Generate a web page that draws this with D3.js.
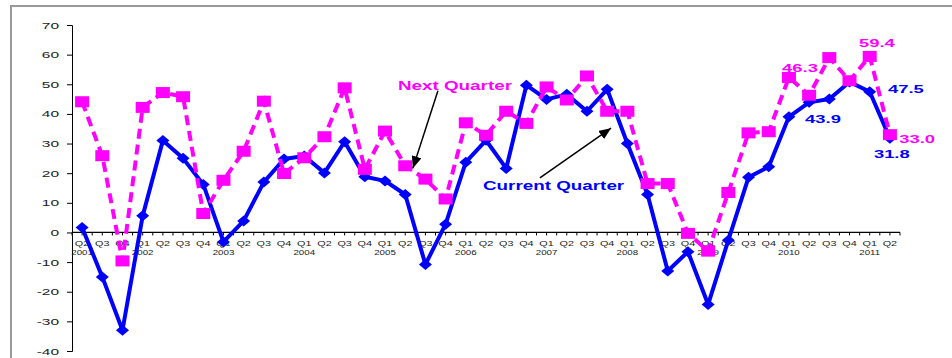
<!DOCTYPE html>
<html>
<head>
<meta charset="utf-8">
<script src="https://cdn.jsdelivr.net/npm/d3@7"></script>
<style>
body { margin: 0; background: #fff; }
svg { display: block; }
text { font-family: "Liberation Sans", Arial, sans-serif; }
</style>
</head>
<body>
<svg width="952" height="358"></svg>
<script>
// quarterly survey, Q2 2001 .. Q2 2011
var categories = [
  "2001 Q2","2001 Q3","2001 Q4",
  "2002 Q1","2002 Q2","2002 Q3","2002 Q4",
  "2003 Q1","2003 Q2","2003 Q3","2003 Q4",
  "2004 Q1","2004 Q2","2004 Q3","2004 Q4",
  "2005 Q1","2005 Q2","2005 Q3","2005 Q4",
  "2006 Q1","2006 Q2","2006 Q3","2006 Q4",
  "2007 Q1","2007 Q2","2007 Q3","2007 Q4",
  "2008 Q1","2008 Q2","2008 Q3","2008 Q4",
  "2009 Q1","2009 Q2","2009 Q3","2009 Q4",
  "2010 Q1","2010 Q2","2010 Q3","2010 Q4",
  "2011 Q1","2011 Q2"
];
var currentQuarter = [
  1.7, -15, -33,
  5.6, 31, 25, 16.2,
  -3.2, 3.9, 17, 24.8,
  25.8, 20.1, 30.6, 18.8,
  17.4, 12.8, -10.8, 2.8,
  23.7, 31.1, 21.6, 49.7,
  44.9, 46.6, 40.9, 48.3,
  30, 12.8, -13, -6.5,
  -24.3, -2.6, 18.6, 22.2,
  39, 43.9, 45, 50.8,
  47.5, 31.8
];
var nextQuarter = [
  44.1, 25.9, -9.6,
  42.2, 47.2, 45.8, 6.4,
  17.6, 27.4, 44.3, 19.9,
  25.2, 32.3, 48.8, 21.3,
  34.2, 22.5, 18, 11.3,
  37, 32.8, 40.9, 36.8,
  49.1, 44.7, 52.8, 40.9,
  40.9, 16.5, 16.5, -0.3,
  -6.3, 13.5, 33.6, 34,
  52.3, 46.3, 59, 51.2,
  59.4, 33.0
];
var yTicks = [-40, -30, -20, -10, 0, 10, 20, 30, 40, 50, 60, 70];
var yearLabels = ["2001","2002","2003","2004","2005","2006","2007","2008","2009","2010","2011"];

var svg = d3.select("svg");
var blue = "#0000ff", pink = "#ff00ff";

// outer frame
svg.append("rect")
    .attr("x", 11).attr("y", 6)
    .attr("width", 1000).attr("height", 400)
    .style("fill", "none").style("stroke", "#999").style("stroke-width", 2);

var x = d3.scaleBand().domain(categories).range([72, 900]).padding(0);
var y = d3.scaleLinear().domain([-40, 70]).range([351, 25]);
var bw = x.bandwidth();
var cx = function (c) { return x(c) + bw / 2; };
// fractional category position, for annotations
var xi = d3.scaleLinear().domain([0, categories.length - 1])
    .range([cx(categories[0]), cx(categories[categories.length - 1])]);

// y axis
var yAxis = svg.append("g").attr("transform", "translate(72,0)");
yAxis.call(d3.axisLeft(y).tickValues(d3.range(-40, 71, 2)).tickSize(4).tickFormat(""));
yAxis.call(d3.axisLeft(y).tickValues(yTicks).tickSize(5).tickFormat(function (d) { return String(d); }));
yAxis.select(".domain").attr("stroke", "#000");
yAxis.selectAll("text")
    .attr("x", -13 / 1.63)
    .attr("transform", "scale(1.63,1)")
    .style("font-size", "9.5px")
    .style("fill", "#222");

// x axis along zero
var xAxis = svg.append("g").attr("transform", "translate(0," + y(0) + ")");
xAxis.append("line").attr("x1", 72).attr("x2", 900)
    .style("stroke", "#000").style("stroke-width", 1.2);
xAxis.selectAll(".xt")
    .data(d3.range(0, categories.length * 2 + 1))
    .enter().append("line")
    .attr("x1", function (d) { return 72 + d * bw / 2; })
    .attr("x2", function (d) { return 72 + d * bw / 2; })
    .attr("y1", 0).attr("y2", 3)
    .style("stroke", "#000");
xAxis.selectAll(".ql")
    .data(categories)
    .enter().append("text")
    .attr("transform", function (d) { return "translate(" + cx(d) + ",14) scale(1.55,1)"; })
    .attr("text-anchor", "middle")
    .style("font-size", "7px")
    .style("fill", "#222")
    .text(function (d) { return d.split(" ")[1]; });
xAxis.selectAll(".yl")
    .data(yearLabels)
    .enter().append("text")
    .attr("transform", function (d) {
        var first = categories.filter(function (c) { return c.indexOf(d) === 0; })[0];
        return "translate(" + cx(first) + ",23) scale(1.5,1)";
    })
    .attr("text-anchor", "middle")
    .style("font-size", "6.5px")
    .style("fill", "#222")
    .text(function (d) { return d; });

var line = d3.line()
    .x(function (d, i) { return cx(categories[i]); })
    .y(function (d) { return y(d); });

// current quarter
svg.append("path").datum(currentQuarter)
    .attr("d", line)
    .style("fill", "none").style("stroke", blue).style("stroke-width", 4)
    .style("stroke-linejoin", "round");
svg.selectAll(".dia").data(currentQuarter).enter().append("path")
    .attr("d", "M0,-5.5L6.5,0L0,5.5L-6.5,0Z")
    .attr("transform", function (d, i) { return "translate(" + cx(categories[i]) + "," + y(d) + ")"; })
    .style("fill", blue);

// next quarter
svg.append("path").datum(nextQuarter)
    .attr("d", line)
    .style("fill", "none").style("stroke", pink).style("stroke-width", 4)
    .style("stroke-dasharray", "10,6");
svg.selectAll(".sq").data(nextQuarter).enter().append("rect")
    .attr("x", function (d, i) { return cx(categories[i]) - 7; })
    .attr("y", function (d) { return y(d) - 5.5; })
    .attr("width", 14).attr("height", 11)
    .style("fill", pink);

// value labels on the last points
function valueLabel(series, i, dx, dy, color) {
    svg.append("text")
        .attr("transform", "translate(" + (cx(categories[i]) + dx) + "," + (y(series[i]) + dy) + ") scale(1.6,1)")
        .style("font-size", "11.5px").style("font-weight", "bold")
        .style("fill", color)
        .text(d3.format(".1f")(series[i]));
}
valueLabel(nextQuarter, 36, -27, -23.4, pink);
valueLabel(currentQuarter, 36, -4, 21, blue);
valueLabel(nextQuarter, 39, -10.7, -9, pink);
valueLabel(currentQuarter, 39, 18.3, 1.5, blue);
valueLabel(nextQuarter, 40, 9.4, 8, pink);
valueLabel(currentQuarter, 40, -16, 19.4, blue);

// annotations with arrows
svg.append("defs").append("marker")
    .attr("id", "arrow").attr("viewBox", "0 0 12 10")
    .attr("refX", 12).attr("refY", 5)
    .attr("markerWidth", 12).attr("markerHeight", 10)
    .attr("markerUnits", "userSpaceOnUse")
    .attr("orient", "auto")
    .append("path").attr("d", "M0,0L12,5L0,10Z").style("fill", "#000");

function annotation(label, color, tx, ty, a0, a1) {
    svg.append("text")
        .attr("transform", "translate(" + xi(tx) + "," + y(ty) + ") scale(1.57,1)")
        .style("font-size", "12px").style("font-weight", "bold")
        .style("fill", color)
        .text(label);
    svg.append("line")
        .attr("x1", xi(a0[0])).attr("y1", y(a0[1]))
        .attr("x2", xi(a1[0])).attr("y2", y(a1[1]))
        .style("stroke", "#000").style("stroke-width", 1.5)
        .attr("marker-end", "url(#arrow)");
}
annotation("Next Quarter", pink, 15.64, 48.1, [17.62, 47.8], [16.38, 21.7]);
annotation("Current Quarter", blue, 19.85, 14.3, [22.67, 18.4], [26.19, 35.2]);
</script>
</body>
</html>
